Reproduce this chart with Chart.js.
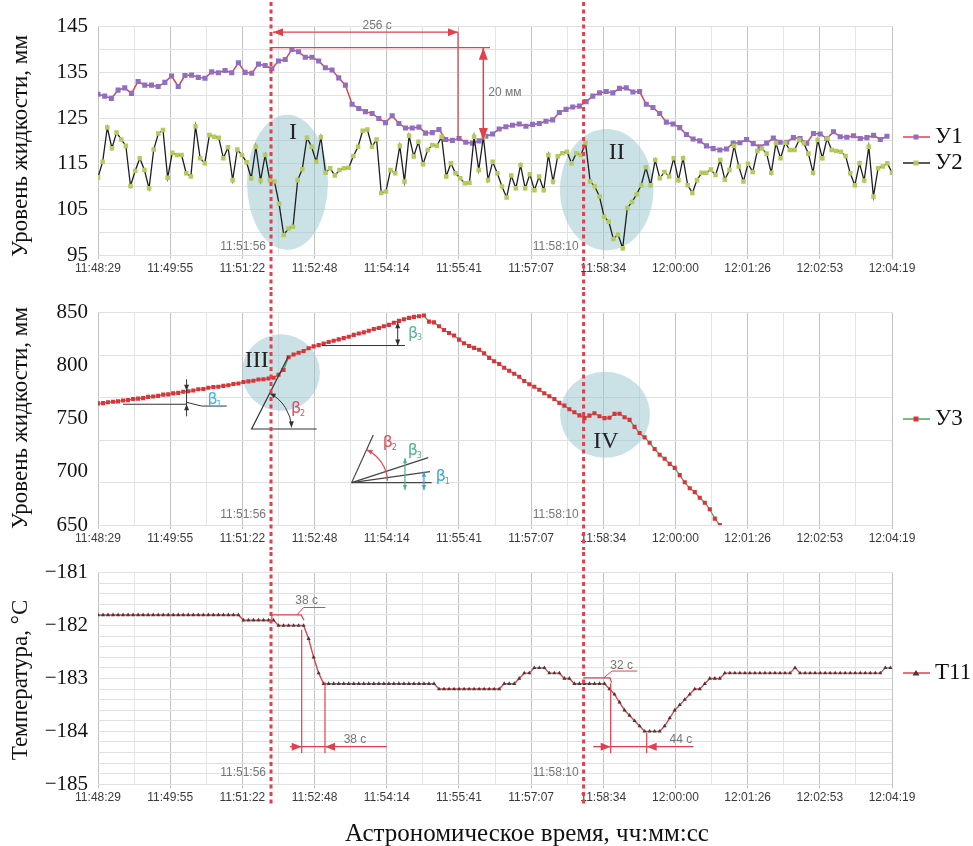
<!DOCTYPE html>
<html>
<head>
<meta charset="utf-8">
<script src="https://cdn.jsdelivr.net/npm/chart.js@4.4.0/dist/chart.umd.min.js"></script>
<style>
  body { margin:0; background:#fff; width:973px; height:846px; position:relative; overflow:hidden; }
  canvas { position:absolute; left:0; }
  #xtitle { position:absolute; top:818px; left:277px; width:500px; text-align:center;
            font:25px "Liberation Serif", serif; line-height:29px; color:#111; }
</style>
</head>
<body>
<canvas id="c1" width="973" height="290" style="top:0"></canvas>
<canvas id="c2" width="973" height="260" style="top:290px"></canvas>
<canvas id="c3" width="973" height="296" style="top:550px"></canvas>
<div id="xtitle">Астрономическое время, чч:мм:сс</div>
<script>
// time axis: seconds after 11:48:29, window ends at 12:04:19
var T_SPAN = 950;
var tickLabels = ['11:48:29','11:49:55','11:51:22','11:52:48','11:54:14','11:55:41',
                  '11:57:07','11:58:34','12:00:00','12:01:26','12:02:53','12:04:19'];
var EV1 = 207, EV2 = 581;   // 11:51:56 and 11:58:10

// У1, mm, one sample every 8 s
var y1Step = 8;
var y1Values = [
  130.2,129.8,129.3,131.1,131.6,130.4,133.0,132.2,132.2,131.9,
  132.8,134.2,131.9,134.3,134.4,133.9,133.7,135.1,134.9,135.4,
  134.9,137.1,135.0,134.8,136.8,136.5,135.8,137.5,137.8,140.0,
  139.5,138.3,138.3,137.5,136.0,135.5,133.8,132.2,128.0,127.1,
  126.4,126.0,124.9,124.0,125.5,123.8,122.8,122.8,123.0,121.7,
  121.8,122.5,120.3,120.1,120.5,119.7,119.5,120.0,121.0,121.5,
  122.6,123.1,123.4,123.7,123.2,123.6,123.8,124.3,124.6,126.2,
  126.9,127.4,127.6,128.6,129.8,130.5,130.8,130.5,131.5,131.6,
  130.7,130.8,128.0,127.3,126.0,124.1,123.7,122.9,121.4,120.4,
  120.0,118.9,118.3,118.0,118.2,119.5,119.6,120.3,119.4,118.7,
  119.5,120.6,119.7,119.7,120.7,120.5,119.5,121.6,121.5,120.5,
  122.0,120.9,120.8,121.1,120.5,120.7,121.2,120.3,121.0
];

// У2, mm, evenly spread over the whole window
var y2Values = [
  112,115.4,122.9,118.4,121.8,120.3,118.9,110.1,113.4,116.2,
  113.6,109.6,118.1,121.6,122.4,111.9,117.4,116.9,116.9,112.9,
  112.2,123.2,116.2,115.1,121.3,120.9,120.7,116.2,118.6,111.4,
  118.1,116.9,115.3,111.8,118.7,111.3,116.9,111.4,111.1,106.2,
  99.4,100.8,101.2,111.4,113.8,120.7,118.7,115.4,120.8,113,
  114,112.4,113.6,114,114.1,116.7,118.7,122.2,122.5,118.7,
  120.3,108.6,108.9,113.6,
  112.9,118.9,111.1,121.1,116.6,119.8,114.9,118,119.1,118.9,
  120.9,112.2,115.1,112.9,111.8,110.7,110.8,120.9,113.6,120.9,
  111.4,115.4,112.9,110,107.6,112.4,109.6,114.7,109.6,112.7,
  109.2,112.2,109.2,116.9,111.1,116.6,117.3,117.6,115.1,117.3,
  116.9,119.5,111.1,110,107.8,103.4,102.3,98.5,99.5,96.5,
  105.3,106.6,108.3,110.3,114.2,110.3,115.8,111.8,113.2,112.2,
  116.2,111.4,116.2,110.3,
  108.6,111.4,113,113,113.7,112.5,115.8,111.5,113.6,118.9,
  114.4,111.1,115,113.2,117.8,118.3,117.2,113,119.5,116.2,
  119.6,118,118,120.2,119.5,117.2,113,120.2,116.2,120.5,
  118,117.8,117.6,116.7,112.9,110.3,115.1,111.3,118.7,107.8,
  114,114.4,115.1,113
];
var y2Step = T_SPAN / (y2Values.length - 1);

// У3, mm, one sample every 6 s
var y3Step = 6;
var y3Values = [
  764.5,764.8,765.6,766.0,766.4,767.3,767.6,768.6,769.0,769.5,
  770.6,771.0,771.6,772.8,773.0,773.9,774.4,775.5,775.9,776.6,
  777.8,778.0,779.2,780.0,780.2,781.0,781.6,782.8,783.3,784.6,
  785.2,785.8,787.0,787.2,787.9,788.6,791.5,796.0,808.0,810.5,
  812.2,813.8,816.5,818.2,819.4,820.8,822.3,823.5,824.8,826.0,
  827.2,829.0,830.3,831.4,832.9,834.6,835.5,837.2,838.4,840.5,
  842.2,843.8,845.0,846.0,846.6,847.2,841.5,840.8,837.2,833.6,
  830.8,828.5,824.6,821.2,818.6,816.8,815.0,811.6,807.4,804.2,
  801.6,798.0,795.2,792.4,789.6,785.6,782.6,780.2,777.4,774.0,
  771.2,768.6,765.0,762.4,759.0,756.2,753.2,750.6,753.0,755.2,
  752.4,750.6,751.0,754.6,754.8,751.5,749.0,742.4,736.6,732.5,
  727.4,721.6,716.2,712.4,707.6,703.8,697.0,690.2,684.6,681.0,
  675.6,671.0,664.8,656.0,650.0
];

// Т11, °C, one sample every 6 s
var t11Step = 6;
var t11Values = [
  -181.8,-181.8,-181.8,-181.8,-181.8,-181.8,-181.8,-181.8,-181.8,-181.8,
  -181.8,-181.8,-181.8,-181.8,-181.8,-181.8,-181.8,-181.8,-181.8,-181.8,
  -181.8,-181.8,-181.8,-181.8,-181.8,-181.8,-181.8,-181.8,-181.8,-181.9,
  -181.9,-181.9,-181.9,-181.9,-181.9,-181.9,-182.0,-182.0,-182.0,-182.0,
  -182.0,-182.0,-182.25,-182.6,-182.9,-183.1,-183.1,-183.1,-183.1,-183.1,
  -183.1,-183.1,-183.1,-183.1,-183.1,-183.1,-183.1,-183.1,-183.1,-183.1,
  -183.1,-183.1,-183.1,-183.1,-183.1,-183.1,-183.1,-183.1,-183.2,-183.2,
  -183.2,-183.2,-183.2,-183.2,-183.2,-183.2,-183.2,-183.2,-183.2,-183.2,
  -183.2,-183.1,-183.1,-183.1,-183.0,-182.9,-182.9,-182.8,-182.8,-182.8,
  -182.9,-182.9,-182.9,-183.0,-183.0,-183.1,-183.1,-183.1,-183.1,-183.1,
  -183.1,-183.1,-183.2,-183.3,-183.45,-183.6,-183.7,-183.8,-183.9,-184.0,
  -184.0,-184.0,-184.0,-183.9,-183.75,-183.6,-183.5,-183.4,-183.3,-183.2,
  -183.2,-183.1,-183.0,-183.0,-183.0,-182.9,-182.9,-182.9,-182.9,-182.9,
  -182.9,-182.9,-182.9,-182.9,-182.9,-182.9,-182.9,-182.9,-182.9,-182.8,
  -182.9,-182.9,-182.9,-182.9,-182.9,-182.9,-182.9,-182.9,-182.9,-182.9,
  -182.9,-182.9,-182.9,-182.9,-182.9,-182.9,-182.9,-182.8,-182.8
];

var RED = '#e2404c';
var NOTE = '#757575';

function series(values, step) {
  return values.map(function(v, i){ return { x: i * step, y: v }; });
}

function xAxis() {
  return {
    type: 'linear', min: 0, max: T_SPAN,
    afterBuildTicks: function(ax){
      ax.ticks = [];
      for (var i = 0; i <= 22; i++) ax.ticks.push({ value: i * T_SPAN / 22 });
    },
    ticks: {
      autoSkip: false, maxRotation: 0, padding: 2, color: '#3a3a3a',
      font: { family: 'Liberation Sans', size: 12 },
      callback: function(v, i){ return i % 2 === 0 ? tickLabels[i / 2] : ''; }
    },
    grid: {
      color: function(c){ return c.index % 2 === 0 ? '#c2c2c2' : '#e4e4e4'; },
      tickColor: function(c){ return c.index % 2 === 0 ? '#c2c2c2' : 'rgba(0,0,0,0)'; },
      tickLength: 4
    },
    border: { display: false },
    afterFit: function(ax){ ax.height = 25; }
  };
}

function yAxis(min, max, values, label, gridColor) {
  return {
    min: min, max: max,
    afterBuildTicks: function(ax){ ax.ticks = values.map(function(v){ return { value: v }; }); },
    ticks: {
      autoSkip: false, padding: 10, color: '#111',
      font: { family: 'Liberation Serif', size: 21 },
      callback: label
    },
    grid: { color: gridColor, drawTicks: false },
    border: { display: false },
    afterFit: function(ax){ ax.width = 98; }
  };
}

// drawing helpers for the notes on top of the charts
function sx(c, s) { return c.scales.x.getPixelForValue(s); }
function sy(c, v) { return c.scales.y.getPixelForValue(v); }

function path(ctx, pts, color, w) {
  ctx.save();
  ctx.strokeStyle = color; ctx.lineWidth = w || 1;
  ctx.beginPath();
  pts.forEach(function(p, i){ if (i) ctx.lineTo(p[0], p[1]); else ctx.moveTo(p[0], p[1]); });
  ctx.stroke();
  ctx.restore();
}

function head(ctx, x, y, ang, color, len, half) {
  len = len || 8; half = half || 3.5;
  ctx.save();
  ctx.fillStyle = color;
  ctx.translate(x, y); ctx.rotate(ang);
  ctx.beginPath(); ctx.moveTo(0, 0); ctx.lineTo(-len, -half); ctx.lineTo(-len, half); ctx.closePath();
  ctx.fill();
  ctx.restore();
}

function label(ctx, str, x, y, font, color, align) {
  ctx.save();
  ctx.font = font; ctx.fillStyle = color;
  ctx.textAlign = align || 'center'; ctx.textBaseline = 'middle';
  ctx.fillText(str, x, y);
  ctx.restore();
}

function beta(ctx, n, x, y, color) {
  label(ctx, 'β', x, y, '16px "DejaVu Sans"', color, 'left');
  label(ctx, n, x + 9, y + 5, '8px "DejaVu Sans"', color, 'left');
}

function ellipse(c, s, v, rs, rv) {
  var ctx = c.ctx, x = sx(c, s), y = sy(c, v);
  var rx = Math.abs(sx(c, s + rs) - x), ry = Math.abs(sy(c, v + rv) - y);
  ctx.save();
  ctx.fillStyle = 'rgba(150,198,205,0.5)';
  ctx.beginPath(); ctx.ellipse(x, y, rx, ry, 0, 0, Math.PI * 2); ctx.fill();
  ctx.restore();
}

function eventLines(c, bottom, yText) {
  var ctx = c.ctx;
  [[EV1, '11:51:56'], [EV2, '11:58:10']].forEach(function(e){
    var x = sx(c, e[0]);
    label(ctx, e[1], x - 5, sy(c, yText), '12px "Liberation Sans"', NOTE, 'right');
    ctx.save();
    ctx.strokeStyle = RED; ctx.lineWidth = 3; ctx.setLineDash([4, 3.5]);
    ctx.beginPath(); ctx.moveTo(x, 2); ctx.lineTo(x, bottom); ctx.stroke();
    ctx.restore();
  });
}

function legendItem(ctx, y, text, lineColor, markColor, shape) {
  path(ctx, [[903, y], [930, y]], lineColor, 1.5);
  ctx.save();
  ctx.fillStyle = markColor;
  ctx.beginPath();
  if (shape === 'tri') { ctx.moveTo(916, y - 3); ctx.lineTo(919.5, y + 2.5); ctx.lineTo(912.5, y + 2.5); }
  else ctx.rect(913.5, y - 2.5, 5, 5);
  ctx.fill();
  ctx.restore();
  label(ctx, text, 935, y, '23px "Liberation Serif"', '#111', 'left');
}

function yTitle(ctx, text, y) {
  ctx.save();
  ctx.translate(21, y); ctx.rotate(-Math.PI / 2);
  ctx.font = '23px "Liberation Serif"'; ctx.fillStyle = '#111';
  ctx.textAlign = 'center'; ctx.textBaseline = 'middle';
  ctx.fillText(text, 0, 0);
  ctx.restore();
}

function baseOptions(padding, yScale) {
  return {
    responsive: false, animation: false, devicePixelRatio: 1, events: [],
    layout: { padding: padding },
    plugins: { legend: { display: false }, tooltip: { enabled: false } },
    scales: { x: xAxis(), y: yScale }
  };
}

// ---------- top chart: У1, У2 ----------
var topNotes = {
  id: 'topNotes',
  beforeDatasetsDraw: function(c){
    ellipse(c, 226.7, 110.9, 48.5, 14.8);
    ellipse(c, 608.6, 109.3, 55.9, 13.3);
  },
  afterDraw: function(c){
    var ctx = c.ctx;
    label(ctx, 'I', sx(c, 233.3), sy(c, 121.7), '24px "Liberation Serif"', '#222');
    label(ctx, 'II', sx(c, 620.6), sy(c, 117.4), '24px "Liberation Serif"', '#222');
    // 256 s span
    var yA = sy(c, 143.8), xa = sx(c, EV1) + 2, xb = sx(c, 430.7);
    path(ctx, [[xa, yA], [xb, yA]], RED, 1.2);
    head(ctx, xa, yA, Math.PI, RED, 10, 4);
    head(ctx, xb, yA, 0, RED, 10, 4);
    label(ctx, '256 с', sx(c, 334), sy(c, 145.15), '12px "Liberation Sans"', NOTE);
    path(ctx, [[xb, yA], [xb, sy(c, 120.2)]], RED, 1.2);
    // 20 mm drop
    path(ctx, [[sx(c, EV1), sy(c, 140.4)], [sx(c, 469), sy(c, 140.4)]], RED, 1.2);
    var xm = sx(c, 461);
    path(ctx, [[xm, sy(c, 140.4)], [xm, sy(c, 120.2)]], RED, 1.5);
    head(ctx, xm, sy(c, 140.4), -Math.PI / 2, RED, 12, 4.5);
    head(ctx, xm, sy(c, 120.2), Math.PI / 2, RED, 12, 4.5);
    label(ctx, '20 мм', xm + 5, sy(c, 130.6), '12px "Liberation Sans"', NOTE, 'left');
    eventLines(c, 290, 96.9);
    yTitle(ctx, 'Уровень жидкости, мм', 146);
    legendItem(ctx, 137, 'У1', '#d9474f', '#8d70c6', 'rect');
    legendItem(ctx, 163, 'У2', '#222', '#b5ca5c', 'rect');
  }
};

new Chart(document.getElementById('c1'), {
  type: 'line',
  data: { datasets: [
    { label: 'У2', data: series(y2Values, y2Step), order: 0,
      borderColor: '#1e1e1e', borderWidth: 1.3, tension: 0,
      pointStyle: 'rect', pointRadius: 3.2, pointBorderWidth: 0,
      pointBackgroundColor: '#b5ca5c', pointBorderColor: '#b5ca5c' },
    { label: 'У1', data: series(y1Values, y1Step), order: 1,
      borderColor: '#d9474f', borderWidth: 1.5, tension: 0,
      pointStyle: 'rect', pointRadius: 3.6, pointBorderWidth: 0,
      pointBackgroundColor: '#8d70c6', pointBorderColor: '#8d70c6' }
  ]},
  options: baseOptions({ left: 0, right: 81, top: 26.7, bottom: 10 },
    yAxis(95, 145, [95,100,105,110,115,120,125,130,135,140,145],
      function(v){ return (v - 95) % 10 === 0 ? String(v) : ''; }, '#e1e1e1')),
  plugins: [topNotes]
});

// ---------- middle chart: У3 ----------
var midNotes = {
  id: 'midNotes',
  beforeDatasetsDraw: function(c){
    ellipse(c, 218.8, 793.5, 46.7, 36);
    ellipse(c, 606.6, 753.9, 53.8, 40.5);
  },
  afterDraw: function(c){
    var ctx = c.ctx, K = '#333';
    label(ctx, 'III', sx(c, 189.8), sy(c, 805.1), '24px "Liberation Serif"', '#222');
    label(ctx, 'IV', sx(c, 607.8), sy(c, 728.7), '24px "Liberation Serif"', '#222');
    // β1
    var b1 = sx(c, 106);
    path(ctx, [[sx(c, 30), sy(c, 763.7)], [b1, sy(c, 763.7)]], K, 1);
    path(ctx, [[b1, sy(c, 765.5)], [sx(c, 124), sy(c, 762)], [sx(c, 154), sy(c, 762)]], K, 1);
    path(ctx, [[b1, sy(c, 787.2)], [b1, sy(c, 752.3)]], K, 1);
    head(ctx, b1, sy(c, 776.4), Math.PI / 2, K, 6, 2.5);
    head(ctx, b1, sy(c, 763.7), -Math.PI / 2, K, 6, 2.5);
    beta(ctx, '1', sx(c, 131), sy(c, 767.4), '#45b4dc');
    // β2 triangle
    var ox = sx(c, 183.8), oy = sy(c, 740.4);
    var tx = sx(c, 227.7), ty = sy(c, 808.7);
    path(ctx, [[sx(c, 261.6), oy], [ox, oy], [tx, ty]], K, 1.2);
    var a0 = Math.atan2(ty - oy, tx - ox), a1 = -0.04, r = 40;
    ctx.save(); ctx.strokeStyle = K; ctx.lineWidth = 1;
    ctx.beginPath(); ctx.arc(ox, oy, r, a0, a1); ctx.stroke(); ctx.restore();
    head(ctx, ox + r * Math.cos(a0), oy + r * Math.sin(a0), a0 - Math.PI / 2, K, 6, 2.5);
    head(ctx, ox + r * Math.cos(a1), oy + r * Math.sin(a1), a1 + Math.PI / 2, K, 6, 2.5);
    beta(ctx, '2', sx(c, 231), sy(c, 759.6), '#e0505a');
    // β3
    var b3 = sx(c, 358.6);
    path(ctx, [[sx(c, 267.7), sy(c, 819)], [sx(c, 367.3), sy(c, 819)]], K, 1);
    path(ctx, [[b3, sy(c, 841)], [b3, sy(c, 819)]], K, 1);
    head(ctx, b3, sy(c, 841), -Math.PI / 2, K, 6, 2.5);
    head(ctx, b3, sy(c, 819), Math.PI / 2, K, 6, 2.5);
    beta(ctx, '3', sx(c, 371), sy(c, 830.4), '#5cb597');
    // angle sketch
    var gx = sx(c, 303.5), gy = sy(c, 689.9);
    [[21.6, -47.7], [76.6, -25], [78.3, -11], [80, 0]].forEach(function(d){
      path(ctx, [[gx, gy], [gx + d[0], gy + d[1]]], '#444', 1.2);
    });
    var g0 = Math.atan2(-47.7, 21.6);
    ctx.save(); ctx.strokeStyle = '#e0505a'; ctx.lineWidth = 1.2;
    ctx.beginPath(); ctx.arc(gx, gy, 36, g0, -0.05); ctx.stroke(); ctx.restore();
    head(ctx, gx + 36 * Math.cos(g0), gy + 36 * Math.sin(g0), g0 - Math.PI / 2, '#e0505a', 6, 2.5);
    beta(ctx, '2', gx + 31, gy - 40, '#e0505a');
    path(ctx, [[gx + 53.3, gy - 24.3], [gx + 53.3, gy + 7.3]], '#4fb28e', 1.2);
    head(ctx, gx + 53.3, gy - 24.3, -Math.PI / 2, '#4fb28e', 5, 2.2);
    head(ctx, gx + 53.3, gy + 7.3, Math.PI / 2, '#4fb28e', 5, 2.2);
    beta(ctx, '3', gx + 56, gy - 32, '#4fb28e');
    path(ctx, [[gx + 72.3, gy - 11], [gx + 72.3, gy + 7.3]], '#3aa8d0', 1.2);
    head(ctx, gx + 72.3, gy - 11, -Math.PI / 2, '#3aa8d0', 5, 2.2);
    head(ctx, gx + 72.3, gy + 7.3, Math.PI / 2, '#3aa8d0', 5, 2.2);
    beta(ctx, '1', gx + 84, gy - 6, '#3aa8d0');
    eventLines(c, 260, 659.3);
    yTitle(ctx, 'Уровень жидкости, мм', 128);
    legendItem(ctx, 129, 'У3', '#4aa85a', '#e0303a', 'rect');
  }
};

new Chart(document.getElementById('c2'), {
  type: 'line',
  data: { datasets: [
    { label: 'У3', data: series(y3Values, y3Step),
      borderColor: '#4aa85a', borderWidth: 1.3, tension: 0,
      pointStyle: 'rect', pointRadius: 2.9, pointBorderWidth: 0,
      pointBackgroundColor: '#e0303a', pointBorderColor: '#e0303a' }
  ]},
  options: baseOptions({ left: 0, right: 81, top: 13.3, bottom: 0 },
    yAxis(650, 850, [650,690,700,730,750,770,800,810,850],
      function(v){ return v % 50 === 0 ? String(v) : ''; },
      function(c){ return (c.tick.value - 650) % 40 === 0 ? '#e1e1e1' : 'rgba(0,0,0,0)'; })),
  plugins: [midNotes]
});

// ---------- bottom chart: Т11 ----------
var tempTicks = [];
for (var k = 0; k <= 20; k++) tempTicks.push(Math.round((-185 + k * 0.2) * 10) / 10);

var botNotes = {
  id: 'botNotes',
  afterDraw: function(c){
    var ctx = c.ctx, F = '12px "Liberation Sans"';
    // 38 s delay after 11:51:56
    var yb = sy(c, -181.8);
    path(ctx, [[sx(c, 208), yb + 4], [sx(c, 208), yb], [sx(c, 243), yb], [sx(c, 246.5), sy(c, -181.9)]], RED, 1.2);
    path(ctx, [[sx(c, 238), yb], [sx(c, 246), sy(c, -181.66)], [sx(c, 272), sy(c, -181.66)]], RED, 1);
    label(ctx, '38 с', sx(c, 249.7), sy(c, -181.54), F, NOTE);
    var yl = sy(c, -184.29), xa = sx(c, 243.7), xb = sx(c, 271.6);
    path(ctx, [[xa, sy(c, -182.08)], [xa, sy(c, -184.41)]], RED, 1.2);
    path(ctx, [[xb, sy(c, -183.07)], [xb, sy(c, -184.41)]], RED, 1.2);
    path(ctx, [[sx(c, 229.7), yl], [sx(c, 345.4), yl]], RED, 1.2);
    head(ctx, xa, yl, 0, RED, 10, 4);
    head(ctx, xb, yl, Math.PI, RED, 10, 4);
    label(ctx, '38 с', sx(c, 307.5), sy(c, -184.15), F, NOTE);
    // 32 s delay after 11:58:10, 44 s fall
    var yc = sy(c, -182.99);
    path(ctx, [[sx(c, 580.6), yc], [sx(c, 612.6), yc], [sx(c, 614.5), sy(c, -183.08)]], RED, 1.2);
    path(ctx, [[sx(c, 605), yc], [sx(c, 615), sy(c, -182.86)], [sx(c, 645), sy(c, -182.86)]], RED, 1);
    label(ctx, '32 с', sx(c, 626.6), sy(c, -182.75), F, NOTE);
    var xc = sx(c, 613.4), xd = sx(c, 656.5);
    path(ctx, [[xc, sy(c, -183.09)], [xc, sy(c, -184.41)]], RED, 1.2);
    path(ctx, [[xd, sy(c, -184.02)], [xd, sy(c, -184.41)]], RED, 1.2);
    path(ctx, [[sx(c, 592.6), yl], [sx(c, 712.3), yl]], RED, 1.2);
    head(ctx, xc, yl, 0, RED, 10, 4);
    head(ctx, xd, yl, Math.PI, RED, 10, 4);
    label(ctx, '44 с', sx(c, 697.3), sy(c, -184.15), F, NOTE);
    eventLines(c, 255, -184.79);
    yTitle(ctx, 'Температура, °С', 130);
    legendItem(ctx, 123, 'Т11', '#d9474f', '#4a3838', 'tri');
  }
};

new Chart(document.getElementById('c3'), {
  type: 'line',
  data: { datasets: [
    { label: 'Т11', data: series(t11Values, t11Step),
      borderColor: '#d9474f', borderWidth: 1.4, tension: 0,
      pointStyle: 'triangle', pointRadius: 2.4, pointBorderWidth: 0,
      pointBackgroundColor: '#4a3838', pointBorderColor: '#4a3838' }
  ]},
  options: baseOptions({ left: 0, right: 81, top: 11.7, bottom: 36.7 },
    yAxis(-185, -181, tempTicks,
      function(v){ return Number.isInteger(v) ? '\u2212' + Math.abs(v) : ''; }, '#e1e1e1')),
  plugins: [botNotes]
});
</script>
</body>
</html>
